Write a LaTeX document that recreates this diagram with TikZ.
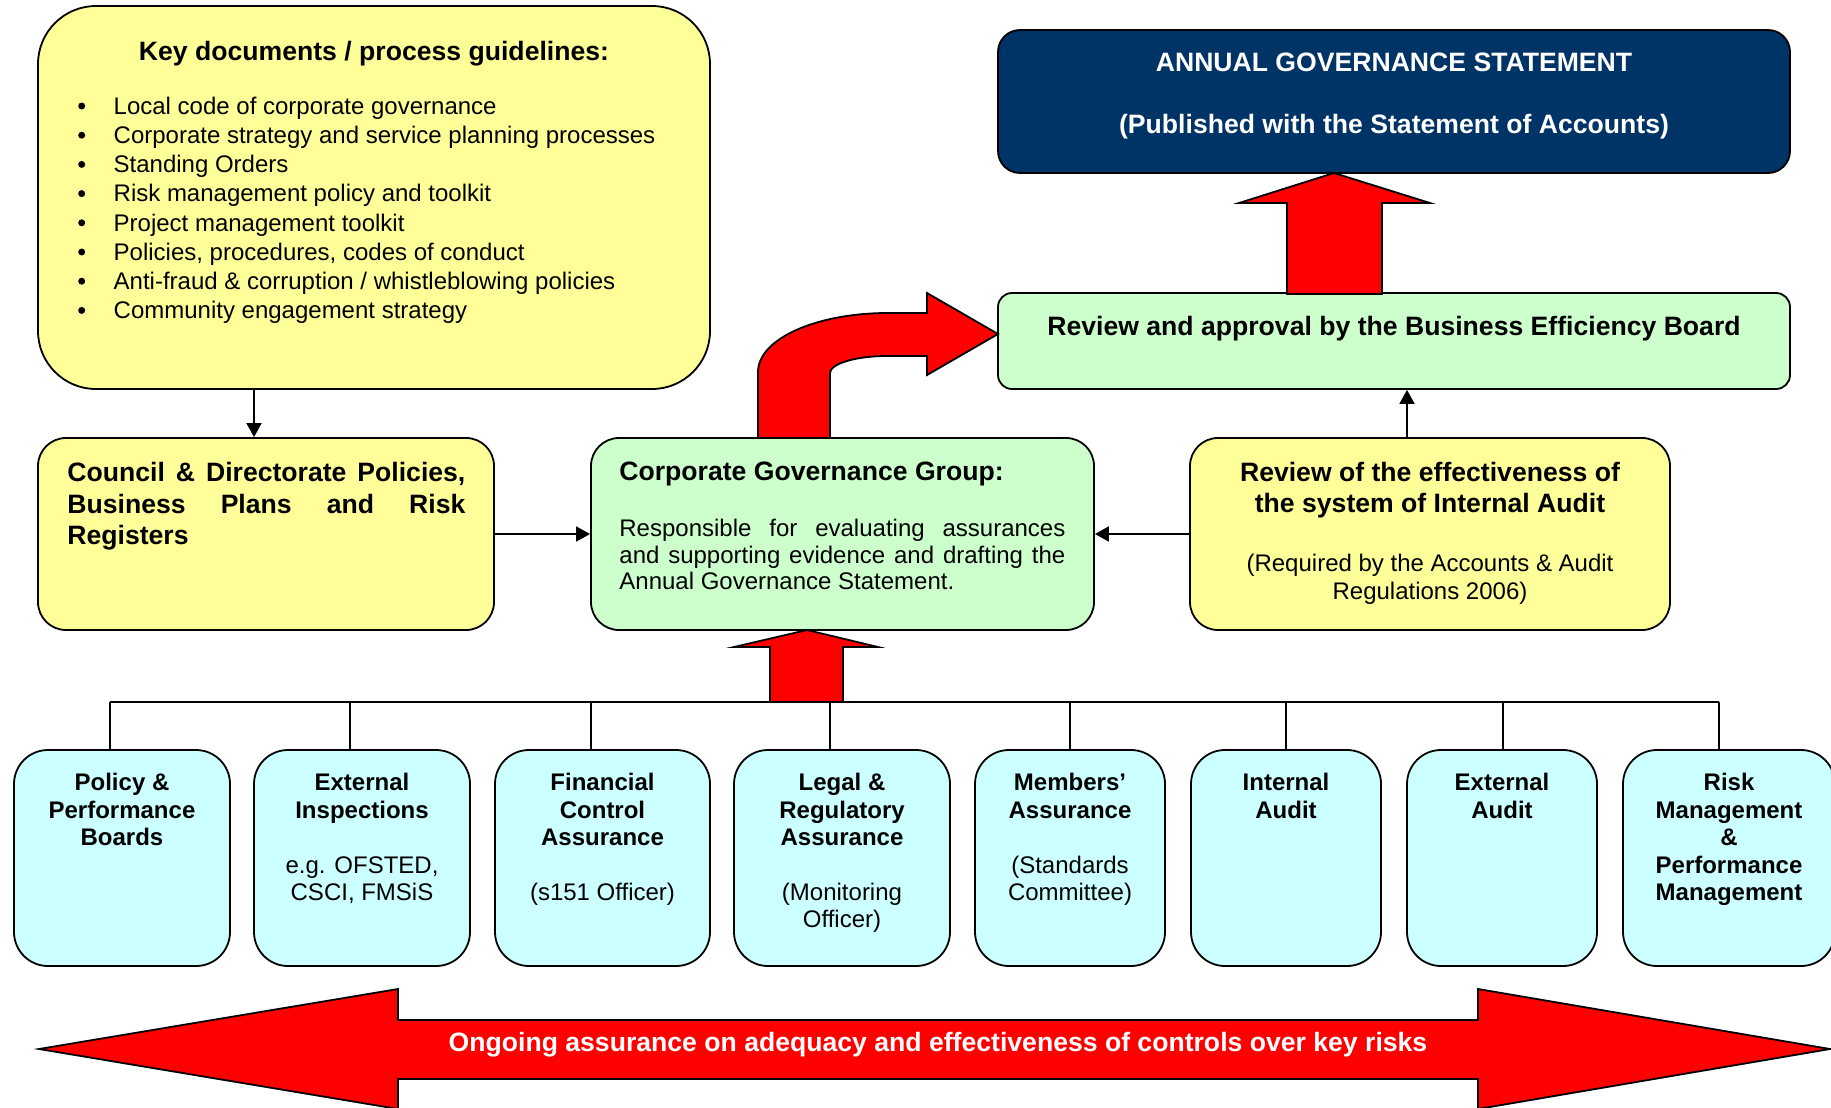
\documentclass[tikz,border=0pt]{standalone}
\usepackage{fontspec}
\setmainfont{Liberation Sans}
\usetikzlibrary{arrows.meta}
\definecolor{docyellow}{HTML}{FFFF99}
\definecolor{revgreen}{HTML}{CCFFCC}
\definecolor{srccyan}{HTML}{CCFFFF}
\definecolor{agsnavy}{HTML}{003366}

\tikzset{
	box/.style={draw, line width=0.9pt, inner sep=0pt, rounded corners=14pt},
	docbox/.style={box, fill=docyellow},
	revbox/.style={box, fill=revgreen},
	srcbox/.style={box, fill=srccyan, rounded corners=17pt, minimum height=108pt},
	head/.style={inner sep=0pt, font=\fontsize{13.3}{15.5}\selectfont\bfseries},
	body/.style={inner sep=0pt, font=\fontsize{12}{14}\selectfont},
	srctext/.style={inner sep=0pt, anchor=north, align=center, font=\fontsize{12}{13.7}\selectfont\bfseries},
	link/.style={line width=0.9pt, -{Triangle[length=7pt,width=7.5pt]}},
	fatarrow/.style={draw, line width=0.9pt, fill=red, line join=miter}
}

\begin{document}
\begin{tikzpicture}[x=0.5pt, y=-0.5pt]
	\useasboundingbox (0,0) rectangle (1831,1108);

	% upper boxes
	\node[docbox, rounded corners=29pt, minimum width=336pt, minimum height=191.5pt] (keydoc) at (374,197.5) {};
	\node[docbox, minimum width=228pt, minimum height=96pt] (council) at (266,534) {};
	\node[revbox, minimum width=251.5pt, minimum height=96pt] (cgg) at (842.5,534) {};
	\node[docbox, minimum width=240pt, minimum height=96pt] (review) at (1430,534) {};
	\node[revbox, rounded corners=7pt, minimum width=396pt, minimum height=48pt] (bizboard) at (1394,341) {};
	\node[box, fill=agsnavy, rounded corners=11pt, minimum width=396pt, minimum height=71.5pt] (ags) at (1394,101.5) {};

	% assurance sources
	\node[srcbox, minimum width=108pt] (policy) at (122,858) {};
	\node[srcbox, minimum width=108pt] (inspect) at (362,858) {};
	\node[srcbox, minimum width=107.5pt] (finance) at (602.5,858) {};
	\node[srcbox, minimum width=108pt] (legal) at (842,858) {};
	\node[srcbox, minimum width=95pt] (members) at (1070,858) {};
	\node[srcbox, minimum width=95pt] (intaudit) at (1286,858) {};
	\node[srcbox, minimum width=95pt] (extaudit) at (1502,858) {};
	\node[srcbox, minimum width=106pt] (risk) at (1729,858) {};

	% texts
	\node[head, anchor=north] (keyhead) at (374,41) {Key documents / process guidelines:};
	\node[body, anchor=north west, align=left, font=\fontsize{12}{14.6}\selectfont] (keylist) at (113.3,96.5)
		{Local code of corporate governance\\
		Corporate strategy and service planning processes\\
		Standing Orders\\
		Risk management policy and toolkit\\
		Project management toolkit\\
		Policies, procedures, codes of conduct\\
		Anti-fraud \& corruption / whistleblowing policies\\
		Community engagement strategy};
	\foreach \i in {0,...,7}
		\fill (81.7,{106+29.2*\i}) circle (3.5);
	\node[head, anchor=north west, text width=199pt, align=justify, font=\fontsize{13.3}{15.8}\selectfont\bfseries] (counciltext) at (67,462)
		{Council \& Directorate Policies,\linebreak Business Plans and Risk\linebreak Registers};
	\node[head, anchor=north west] (cgghead) at (619,462) {Corporate Governance Group:};
	\node[body, anchor=north west, text width=223pt, align=justify, font=\fontsize{12}{13.4}\selectfont] (cggtext) at (619,518.5)
		{Responsible for evaluating assurances\linebreak and supporting evidence and drafting the\linebreak Annual Governance Statement.};
	\node[head, anchor=north, align=center] (reviewhead) at (1430,462) {Review of the effectiveness of\\the system of Internal Audit};
	\node[body, anchor=north, align=center] (reviewtext) at (1430,554) {(Required by the Accounts \& Audit\\Regulations 2006)};
	\node[head, anchor=north] (bizhead) at (1394,315.5) {Review and approval by the Business Efficiency Board};
	\node[head, anchor=north, align=center, text=white] (agshead) at (1394,52.5)
		{ANNUAL GOVERNANCE STATEMENT\\[15.5pt](Published with the Statement of Accounts)};

	\node[srctext] (policytext) at ([yshift=-12pt]policy.north) {Policy \&\\Performance\\Boards};
	\node[srctext] (inspecttext) at ([yshift=-12pt]inspect.north) {External\\Inspections\\[13.7pt]\textmd{e.g. OFSTED,}\\\textmd{CSCI, FMSiS}};
	\node[srctext] (financetext) at ([yshift=-12pt]finance.north) {Financial\\Control\\Assurance\\[13.7pt]\textmd{(s151 Officer)}};
	\node[srctext] (legaltext) at ([yshift=-12pt]legal.north) {Legal \&\\Regulatory\\Assurance\\[13.7pt]\textmd{(Monitoring}\\\textmd{Officer)}};
	\node[srctext] (memberstext) at ([yshift=-12pt]members.north) {Members’\\Assurance\\[13.7pt]\textmd{(Standards}\\\textmd{Committee)}};
	\node[srctext] (intaudittext) at ([yshift=-12pt]intaudit.north) {Internal\\Audit};
	\node[srctext] (extaudittext) at ([yshift=-12pt]extaudit.north) {External\\Audit};
	\node[srctext] (risktext) at ([yshift=-12pt]risk.north) {Risk\\Management\\\&\\Performance\\Management};

	% bus over the sources
	\coordinate (t1) at (110,702);
	\coordinate (t2) at (350,702);
	\coordinate (t3) at (591,702);
	\coordinate (t4) at (830,702);
	\coordinate (t5) at (1070,702);
	\coordinate (t6) at (1286,702);
	\coordinate (t7) at (1503,702);
	\coordinate (t8) at (1719,702);
	\draw[line width=0.9pt] (t1) -- (t8);
	\foreach \b/\t in {policy/t1, inspect/t2, finance/t3, legal/t4, members/t5, intaudit/t6, extaudit/t7, risk/t8}
		\draw[line width=0.9pt] (\b.north -| \t) -- (\t);

	% thin arrows
	\coordinate (ka) at (254,0);
	\coordinate (ra) at (1407,0);
	\draw[link] (keydoc.south -| ka) -- (council.north -| ka);
	\draw[link] (council.east) -- (cgg.west);
	\draw[link] (review.west) -- (cgg.east);
	\draw[link] (review.north -| ra) -- (bizboard.south -| ra);

	% block arrows
	\draw[fatarrow] (770,702) -- (770,647) -- (734,647) -- (807,630) -- (878,647) -- (843,647) -- (843,702) -- cycle;
	\draw[fatarrow] (1287,294) -- (1287,203) -- (1239,203) -- (1334,173) -- (1430,203) -- (1382,203) -- (1382,294) -- cycle;
	\draw[fatarrow] (758,438) -- (758,372) .. controls (758,339) and (816,313) .. (888,313) -- (927,313) -- (927,293) -- (998,334)
		-- (927,375) -- (927,356) -- (887,356) .. controls (855,356) and (830,364) .. (830,373) -- (830,438) -- cycle;
	\draw[fatarrow] (39,1049) -- (398,989) -- (398,1020) -- (1478,1020) -- (1478,989) -- (1830,1049) -- (1478,1109)
		-- (1478,1079) -- (398,1079) -- (398,1109) -- cycle;
	\node[head, anchor=base, text=white] (ongoing) at (938,1051) {Ongoing assurance on adequacy and effectiveness of controls over key risks};
\end{tikzpicture}
\end{document}
